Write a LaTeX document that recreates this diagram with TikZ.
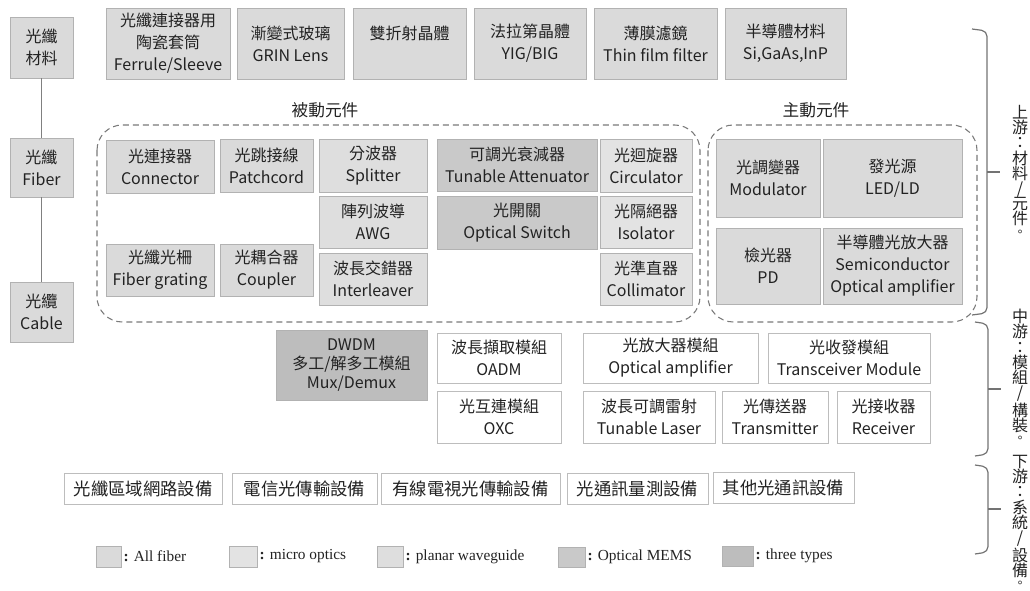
\documentclass[tikz,border=0pt]{standalone}
\usepackage{fontspec}
\setmainfont{Noto Sans CJK TC}
\newfontfamily\legfont{Liberation Serif}
\definecolor{cfib}{HTML}{DADADA}
\definecolor{cmic}{HTML}{E3E3E3}
\definecolor{cpla}{HTML}{DEDEDE}
\definecolor{cmem}{HTML}{C9C9C9}
\definecolor{cthr}{HTML}{BDBDBD}
\definecolor{bordc}{HTML}{B2B2B2}
\definecolor{wbord}{HTML}{BDBDBD}
\definecolor{dashc}{HTML}{7A7A7A}
\definecolor{txtc}{HTML}{222222}
\newcommand{\bx}[7]{\node[#6, minimum width={(#4-#2)*0.75pt}, minimum height={(#5-#3)*0.75pt}] (#1) at ({(#2+#4)/2},{(#3+#5)/2}) {#7};}
\newcommand{\stopmark}{\raisebox{3pt}{\fontsize{9}{9}\selectfont 。}}
\tikzset{
  bxs/.style={draw=bordc, line width=0.6pt, inner sep=0pt, align=center, text=txtc,
    font=\fontsize{12}{16.5}\selectfont},
  fib/.style={bxs, fill=cfib},
  mic/.style={bxs, fill=cmic},
  pla/.style={bxs, fill=cpla},
  mem/.style={bxs, fill=cmem},
  thr/.style={bxs, fill=cthr, font=\fontsize{12}{14.5}\selectfont},
  wht/.style={bxs, draw=wbord, fill=white},
  eqp/.style={bxs, draw=wbord, fill=white, font=\fontsize{13}{16}\selectfont},
  grp/.style={draw=dashc, line width=0.8pt, dash pattern=on 4.5pt off 3pt, rounded corners=19pt},
  lnk/.style={draw=gray, line width=0.8pt},
  brk/.style={draw=gray!90!black, line width=0.9pt, rounded corners=4pt},
  swt/.style={draw=bordc, line width=0.5pt, inner sep=0pt},
  leg/.style={anchor=west, inner sep=0pt, text=txtc, font=\legfont\fontsize{11.5}{13}\selectfont},
  vtx/.style={align=center, inner sep=0pt, text=txtc, font=\fontsize{12}{11.4}\selectfont},
  ttl/.style={inner sep=0pt, text=txtc, font=\fontsize{12.5}{15}\selectfont}
}
\begin{document}
\begin{tikzpicture}[x=0.75pt,y=-0.75pt]
\useasboundingbox (0,0) rectangle (1030,591);
% top row materials
\bx{t1}{106}{8}{230}{79}{fib}{光纖連接器用\\陶瓷套筒\\Ferrule/Sleeve}
\bx{t2}{237}{8}{344}{79}{fib}{漸變式玻璃\\GRIN Lens}
\bx{t3}{353}{8}{466}{79}{fib}{雙折射晶體\\\mbox{}}
\bx{t4}{474}{8}{586}{79}{fib}{法拉第晶體\\YIG/BIG}
\bx{t5}{594}{8}{717}{79}{fib}{薄膜濾鏡\\Thin film filter}
\bx{t6}{725}{8}{846}{79}{fib}{半導體材料\\Si,GaAs,InP}
% left column
\bx{m1}{10}{17}{73}{78}{fib}{光纖\\材料}
\bx{m2}{10}{138}{73}{197}{fib}{光纖\\Fiber}
\bx{m3}{10}{282}{73}{342}{fib}{光纜\\Cable}
\draw[lnk] (m1) -- (m2);
\draw[lnk] (m2) -- (m3);
% group labels and dashed groups
\node[ttl] (lp) at (325,110) {被動元件};
\node[ttl] (la) at (816,110) {主動元件};
\draw[grp] (97,125) rectangle (700,322);
\draw[grp] (708,125) rectangle (977,322);
% passive components
\bx{p1}{106}{140}{214}{193}{fib}{光連接器\\Connector}
\bx{p2}{220}{139}{313}{192}{fib}{光跳接線\\Patchcord}
\bx{p3}{319}{139}{427}{192}{pla}{分波器\\Splitter}
\bx{p4}{319}{196}{427}{248}{pla}{陣列波導\\AWG}
\bx{p5}{319}{253}{427}{305}{pla}{波長交錯器\\Interleaver}
\bx{p6}{106}{244}{214}{296}{fib}{光纖光柵\\Fiber grating}
\bx{p7}{220}{244}{313}{296}{fib}{光耦合器\\Coupler}
\bx{p8}{437}{139}{597}{191}{mem}{可調光衰減器\\Tunable Attenuator}
\bx{p9}{437}{196}{597}{249}{mem}{光開關\\Optical Switch}
\bx{p10}{600}{139}{692}{192}{mic}{光迴旋器\\Circulator}
\bx{p11}{600}{196}{692}{248}{mic}{光隔絕器\\Isolator}
\bx{p12}{600}{253}{692}{305}{mic}{光準直器\\Collimator}
% active components
\bx{a1}{716}{139}{820}{217}{fib}{光調變器\\Modulator}
\bx{a2}{823}{139}{962}{217}{fib}{發光源\\LED/LD}
\bx{a3}{716}{228}{820}{304}{fib}{檢光器\\PD}
\bx{a4}{823}{228}{962}{304}{fib}{半導體光放大器\\Semiconductor\\Optical amplifier}
% modules
\bx{d1}{276}{330}{427}{400}{thr}{DWDM\\多工/解多工模組\\Mux/Demux}
\bx{d2}{437}{333}{561}{383}{wht}{波長擷取模組\\OADM}
\bx{d3}{437}{391}{561}{443}{wht}{光互連模組\\OXC}
\bx{d4}{583}{333}{758}{383}{wht}{光放大器模組\\Optical amplifier}
\bx{d5}{768}{333}{930}{383}{wht}{光收發模組\\Transceiver Module}
\bx{d6}{583}{391}{715}{443}{wht}{波長可調雷射\\Tunable Laser}
\bx{d7}{722}{391}{828}{443}{wht}{光傳送器\\Transmitter}
\bx{d8}{837}{391}{930}{443}{wht}{光接收器\\Receiver}
% equipment
\bx{e1}{64}{473}{222}{504}{eqp}{光纖區域網路設備}
\bx{e2}{232}{473}{377}{504}{eqp}{電信光傳輸設備}
\bx{e3}{381}{473}{560}{504}{eqp}{有線電視光傳輸設備}
\bx{e4}{567}{473}{708}{504}{eqp}{光通訊量測設備}
\bx{e5}{713}{472}{854}{503}{eqp}{其他光通訊設備}
% legend
\bx{s1}{96}{546}{121}{567}{swt,fill=cfib}{}
\bx{s2}{229}{546}{257}{567}{swt,fill=cmic}{}
\bx{s3}{377}{546}{403}{567}{swt,fill=cpla}{}
\bx{s4}{558}{547}{585}{567}{swt,fill=cmem}{}
\bx{s5}{722}{546}{753}{566}{swt,fill=cthr}{}
\node[leg] (g1) at ([xshift=1.5pt]s1.east) {\textbf{:} All fiber};
\node[leg] (g2) at ([xshift=1.5pt]s2.east) {\textbf{:} micro optics};
\node[leg] (g3) at ([xshift=1.5pt]s3.east) {\textbf{:} planar waveguide};
\node[leg] (g4) at ([xshift=1.5pt]s4.east) {\textbf{:} Optical MEMS};
\node[leg] (g5) at ([xshift=1.5pt]s5.east) {\textbf{:} three types};
% brackets
\draw[brk] (972,29) -- (987,31) -- (987,313) -- (972,315);
\draw[brk] (987,172) -- (1000,172);
\draw[brk] (975,322) -- (988,324) -- (988,454) -- (975,456);
\draw[brk] (988,389) -- (1001,389);
\draw[brk] (975,465) -- (988,467) -- (988,552) -- (975,554);
\draw[brk] (988,509) -- (1001,509);
% stage labels
\node[vtx, anchor=north] (u1) at (1020,105) {上\\游\\：\\材\\料\\/\\元\\件\\\stopmark};
\node[vtx, anchor=north] (u2) at (1020,309) {中\\游\\：\\模\\組\\/\\構\\裝\\\stopmark};
\node[vtx, anchor=north] (u3) at (1020,455) {下\\游\\：\\系\\統\\/\\設\\備\\\stopmark};
\end{tikzpicture}
\end{document}
